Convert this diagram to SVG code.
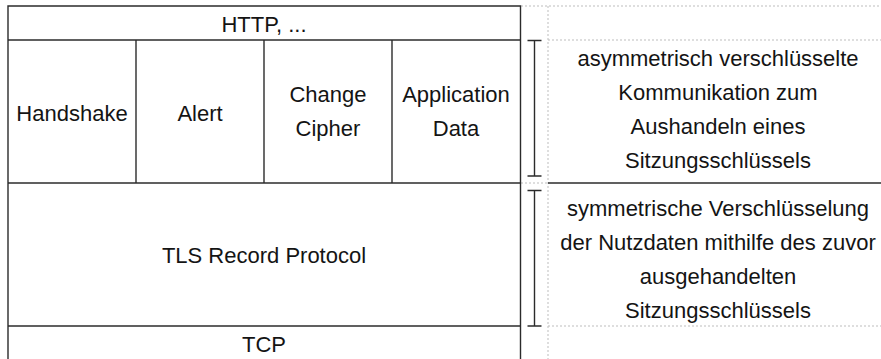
<svg xmlns="http://www.w3.org/2000/svg" width="881" height="359" viewBox="0 0 881 359">
  <style>
    .cell { fill: none; stroke: #2b2b2b; stroke-width: 1.4; }
    .grid { fill: none; stroke: #bdbdbd; stroke-width: 1; stroke-dasharray: 2 2; }
    .brace { fill: none; stroke: #2b2b2b; stroke-width: 1.4; }
    .label { font-family: "Liberation Sans", Arial, sans-serif; font-size: 22px; fill: #141414; text-anchor: middle; }
  </style>
  <rect width="881" height="359" fill="#ffffff"/>

  <!-- layout grid of the side notes -->
  <g id="note-grid">
    <line class="grid" x1="521" y1="6" x2="881" y2="6"/>
    <line class="grid" x1="548" y1="40" x2="881" y2="40"/>
    <line class="grid" x1="521" y1="183" x2="548" y2="183"/>
    <line class="grid" x1="548" y1="326" x2="881" y2="326"/>
    <line class="grid" x1="548" y1="6" x2="548" y2="359"/>
    <line class="cell" x1="548" y1="183" x2="881" y2="183"/>
  </g>

  <!-- protocol stack -->
  <g id="http">
    <path class="cell" d="M8 359 V6 H520.5 V359"/>
    <line class="cell" x1="8" y1="40" x2="520.5" y2="40"/>
    <text class="label" x="264" y="32">HTTP, ...</text>
  </g>
  <g id="handshake">
    <line class="cell" x1="136" y1="40" x2="136" y2="183"/>
    <text class="label" x="72" y="121">Handshake</text>
  </g>
  <g id="alert">
    <line class="cell" x1="264" y1="40" x2="264" y2="183"/>
    <text class="label" x="200" y="121">Alert</text>
  </g>
  <g id="change-cipher">
    <line class="cell" x1="392" y1="40" x2="392" y2="183"/>
    <text class="label" x="328" y="102">Change</text>
    <text class="label" x="328" y="136">Cipher</text>
  </g>
  <g id="application-data">
    <text class="label" x="456" y="102">Application</text>
    <text class="label" x="456" y="136">Data</text>
  </g>
  <g id="tls-record">
    <line class="cell" x1="8" y1="183" x2="520.5" y2="183"/>
    <text class="label" x="264" y="263">TLS Record Protocol</text>
  </g>
  <g id="tcp">
    <line class="cell" x1="8" y1="326" x2="520.5" y2="326"/>
    <text class="label" x="264" y="352">TCP</text>
  </g>

  <!-- range markers linking layers to their notes -->
  <g id="connectors">
    <path class="brace" d="M527.5 40.5 H541.5 M534.5 40.5 V176 M527.5 176 H541.5"/>
    <path class="brace" d="M527.5 190.5 H541.5 M534.5 190.5 V326 M527.5 326 H541.5"/>
  </g>

  <g id="note-asymmetric">
    <text class="label" x="718" y="66">asymmetrisch verschlüsselte</text>
    <text class="label" x="718" y="100">Kommunikation zum</text>
    <text class="label" x="718" y="134">Aushandeln eines</text>
    <text class="label" x="718" y="168">Sitzungsschlüssels</text>
  </g>
  <g id="note-symmetric">
    <text class="label" x="718" y="216">symmetrische Verschlüsselung</text>
    <text class="label" x="718" y="250">der Nutzdaten mithilfe des zuvor</text>
    <text class="label" x="718" y="284">ausgehandelten</text>
    <text class="label" x="718" y="318">Sitzungsschlüssels</text>
  </g>
</svg>
